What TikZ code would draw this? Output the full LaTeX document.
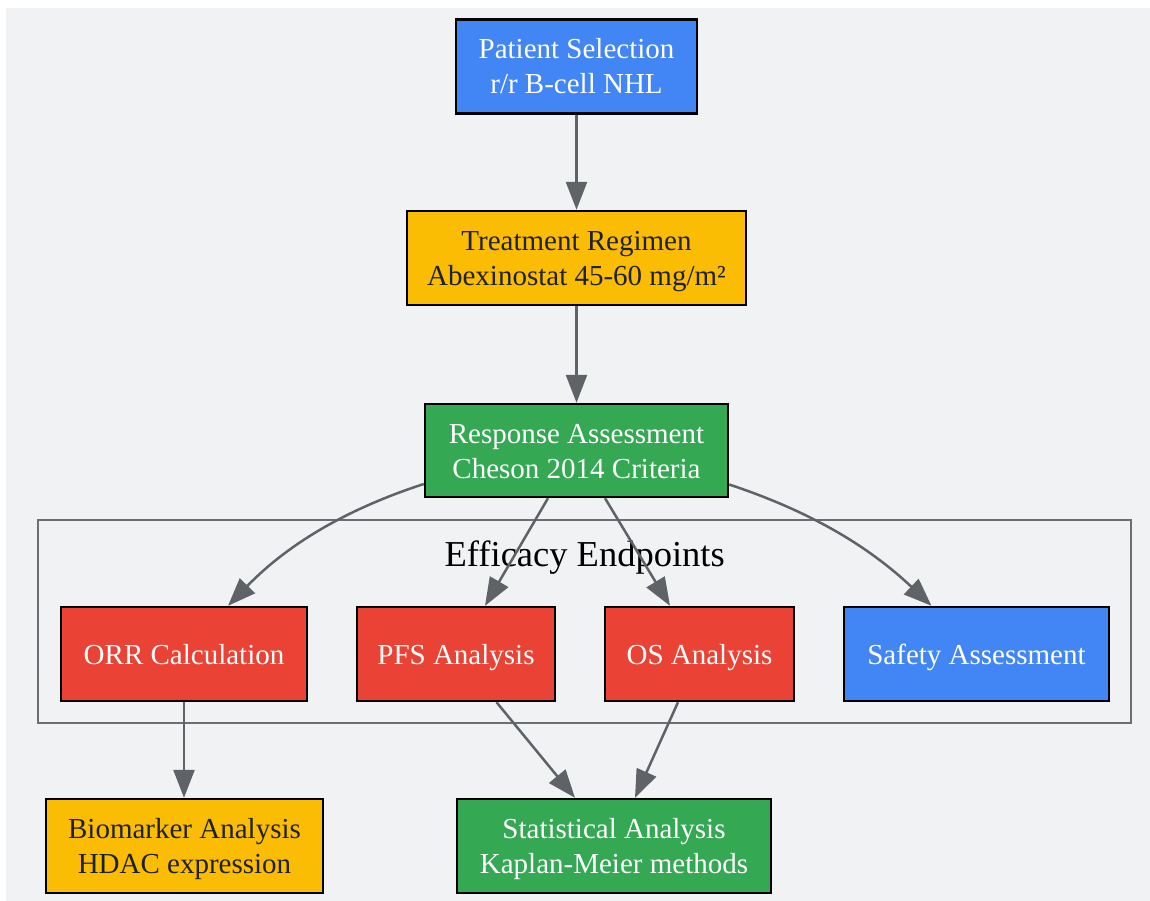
\documentclass[tikz,border=0pt]{standalone}
\usepackage{fontspec}
\setmainfont{Liberation Serif}
\usetikzlibrary{arrows.meta}
\definecolor{gblue}{HTML}{4285F4}
\definecolor{gyellow}{HTML}{FBBC04}
\definecolor{ggreen}{HTML}{34A853}
\definecolor{gred}{HTML}{EA4335}
\definecolor{bggray}{HTML}{F1F2F4}
\definecolor{edgegray}{HTML}{5F6368}
\definecolor{clustergray}{HTML}{6B6F73}
\definecolor{darktext}{HTML}{202124}
\begin{document}
\begin{tikzpicture}[x=1pt,y=-1pt,
  box/.style={draw=black, line width=2.4pt, inner sep=0pt, minimum height=94pt, align=center, font=\fontsize{29}{35}\selectfont},
  oneline/.style={text height=20pt, text depth=0pt},
  twoline/.style={text height=55pt, text depth=0pt},
  wbox/.style={box, text=white},
  dbox/.style={box, text=darktext},
  arr/.style={draw=edgegray, line width=2.5pt, -{Triangle[length=28pt,width=21pt]}}]
\useasboundingbox (0,0) rectangle (1150,901);
\fill[bggray] (6,8) rectangle (1150,901);
% cluster
\node[draw=clustergray, line width=2.2pt, inner sep=0pt, minimum width=1093pt, minimum height=203pt] (cluster) at (584.5,621.5) {};
\node[anchor=base, inner sep=0pt, font=\fontsize{36.5}{40}\selectfont] (clabel) at (584.7,566) {Efficacy Endpoints};
% nodes
\node[wbox, twoline, fill=gblue, minimum width=241pt] (pat) at (576.5,66.5) {Patient Selection\\r/r B-cell NHL};
\node[dbox, twoline, fill=gyellow, minimum width=339pt] (treat) at (576.5,258) {Treatment Regimen\\Abexinostat 45-60 mg/m²};
\node[wbox, twoline, fill=ggreen, minimum width=303pt, minimum height=93pt] (resp) at (576.5,450.5) {Response Assessment\\Cheson 2014 Criteria};
\node[wbox, oneline, fill=gred, minimum width=246pt] (orr) at (184,654) {ORR Calculation};
\node[wbox, oneline, fill=gred, minimum width=198pt] (pfs) at (456,654) {PFS Analysis};
\node[wbox, oneline, fill=gred, minimum width=189pt] (os) at (699.5,654) {OS Analysis};
\node[wbox, oneline, fill=gblue, minimum width=265pt] (safety) at (976.5,654) {Safety Assessment};
\node[dbox, twoline, fill=gyellow, minimum width=277pt] (bio) at (184.5,846) {Biomarker Analysis\\HDAC expression};
\node[wbox, twoline, fill=ggreen, minimum width=314pt] (stat) at (614,846) {Statistical Analysis\\Kaplan-Meier methods};
% edges
\draw[arr] (pat) -- (treat);
\draw[arr] (treat) -- (resp);
\draw[arr] ([yshift=-33.5pt]resp.west) .. controls (350,508) and (290,542) .. ([xshift=44pt]orr.north);
\draw[arr] ([xshift=-28.5pt]resp.south) -- ([xshift=29pt]pfs.north);
\draw[arr] ([xshift=28.5pt]resp.south) -- ([xshift=-29.5pt]os.north);
\draw[arr] ([yshift=-34pt]resp.east) .. controls (803,509) and (864,542) .. ([xshift=-45pt]safety.north);
\draw[arr] (orr.south) -- (orr.south |- bio.north);
\draw[arr] ([xshift=40.5pt]pfs.south) -- ([xshift=-39pt]stat.north);
\draw[arr] ([xshift=-21.5pt]os.south) -- ([xshift=21pt]stat.north);
\end{tikzpicture}
\end{document}
